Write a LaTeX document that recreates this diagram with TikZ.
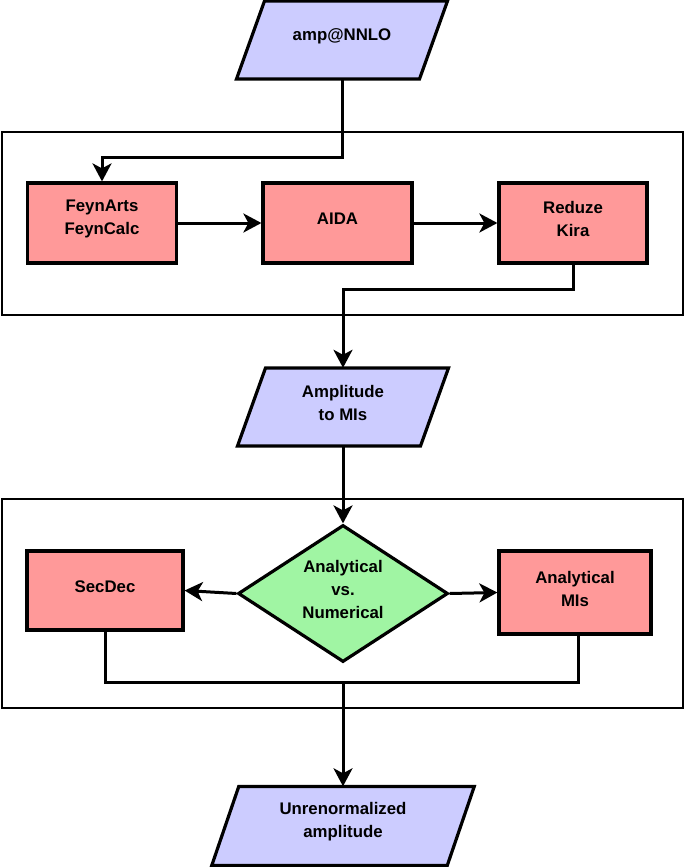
\documentclass[tikz,border=0pt]{standalone}
\usepackage{fontspec}
\setmainfont{Liberation Sans}
\usetikzlibrary{arrows.meta,shapes.geometric}
\definecolor{pblue}{RGB}{204,204,255}
\definecolor{pred}{RGB}{255,153,153}
\definecolor{pgreen}{RGB}{160,245,163}
\newcommand{\myparallel}[7]{% name, cx, cy, width, height, slant, text
  \path[fill=pblue, draw=black, line width=3.2pt, line join=miter]
    ({#2-#4/2+#6/2},{#3-#5/2}) -- ({#2+#4/2+#6/2},{#3-#5/2}) --
    ({#2+#4/2-#6/2},{#3+#5/2}) -- ({#2-#4/2-#6/2},{#3+#5/2}) -- cycle;
  \node[inner sep=0, minimum width=#4, minimum height=#5] (#1) at (#2,#3) {};
  \node[lbl] (#1t) at (#1) {#7};
}
\begin{document}
\begin{tikzpicture}[x=1pt, y=-1pt,
  lbl/.style={font=\bfseries\fontsize{16.8}{23}\selectfont, align=center, inner sep=0, yshift=4pt},
  procbox/.style={draw=black, fill=pred, line width=3.2pt, inner sep=0},
  frame/.style={draw=black, line width=2.9pt, inner sep=0},
  conn/.style={line width=3pt, line join=miter},
  arr/.style={conn, -{Stealth[length=18pt, width=19pt, inset=5pt]}}]
\useasboundingbox (0,0) rectangle (685,867);
\fill[white] (0,0) rectangle (685,867);

% frames
\node[frame, minimum width=681, minimum height=183] (frame1) at (342.5,223.5) {};
\node[frame, minimum width=681, minimum height=209] (frame2) at (342.5,603.5) {};

% parallelograms
\myparallel{p1}{342}{40}{183}{78}{28}{amp@NNLO}
\myparallel{p2}{343}{407}{183}{78}{28}{Amplitude\\to MIs}
\myparallel{p3}{343}{826}{235.5}{79}{27}{Unrenormalized\\amplitude}

% boxes, first frame
\node[procbox, minimum width=149, minimum height=80] (fa) at (102,223) {};
\node[lbl] (fat) at (fa) {FeynArts\\FeynCalc};
\node[procbox, minimum width=149, minimum height=80] (aida) at (337.5,223) {};
\node[lbl] (aidat) at (aida) {AIDA};
\node[procbox, minimum width=148, minimum height=80] (rk) at (573,223) {};
\node[lbl] (rkt) at (rk) {Reduze\\Kira};

% second frame
\node[procbox, minimum width=156, minimum height=79] (sd) at (105,590.5) {};
\node[lbl] (sdt) at (sd) {SecDec};
\node[procbox, minimum width=152, minimum height=83] (ami) at (575,592.5) {};
\node[lbl] (amit) at (ami) {Analytical\\MIs};
\node[draw=black, fill=pgreen, line width=3.2pt, diamond, inner sep=0,
      minimum width=210, minimum height=137] (dia) at (343,593.5) {};
\node[lbl] (diat) at (dia) {Analytical\\vs.\\Numerical};

% connectors
\coordinate (c1) at (342,157);
\draw[arr] (p1.south) -- (c1) -| (fa.north);
\draw[arr] (fa.east) -- (aida.west);
\draw[arr] (aida.east) -- (rk.west);
\coordinate (c2) at (573,289);
\draw[arr] (rk.south) -- (c2) -| (p2.north);
\draw[arr] (p2.south) -- (dia.north);
\draw[arr] (dia.west) -- (sd.east);
\draw[arr] (dia.east) -- (ami.west);
\coordinate (c3) at (105,682);
\coordinate (c4) at (578,682);
\coordinate (m) at (343,682);
\draw[conn] (sd.south) -- (c3) -- (c4) -- (ami.south -| c4);
\draw[arr] (m) -- (p3.north);
\end{tikzpicture}
\end{document}
